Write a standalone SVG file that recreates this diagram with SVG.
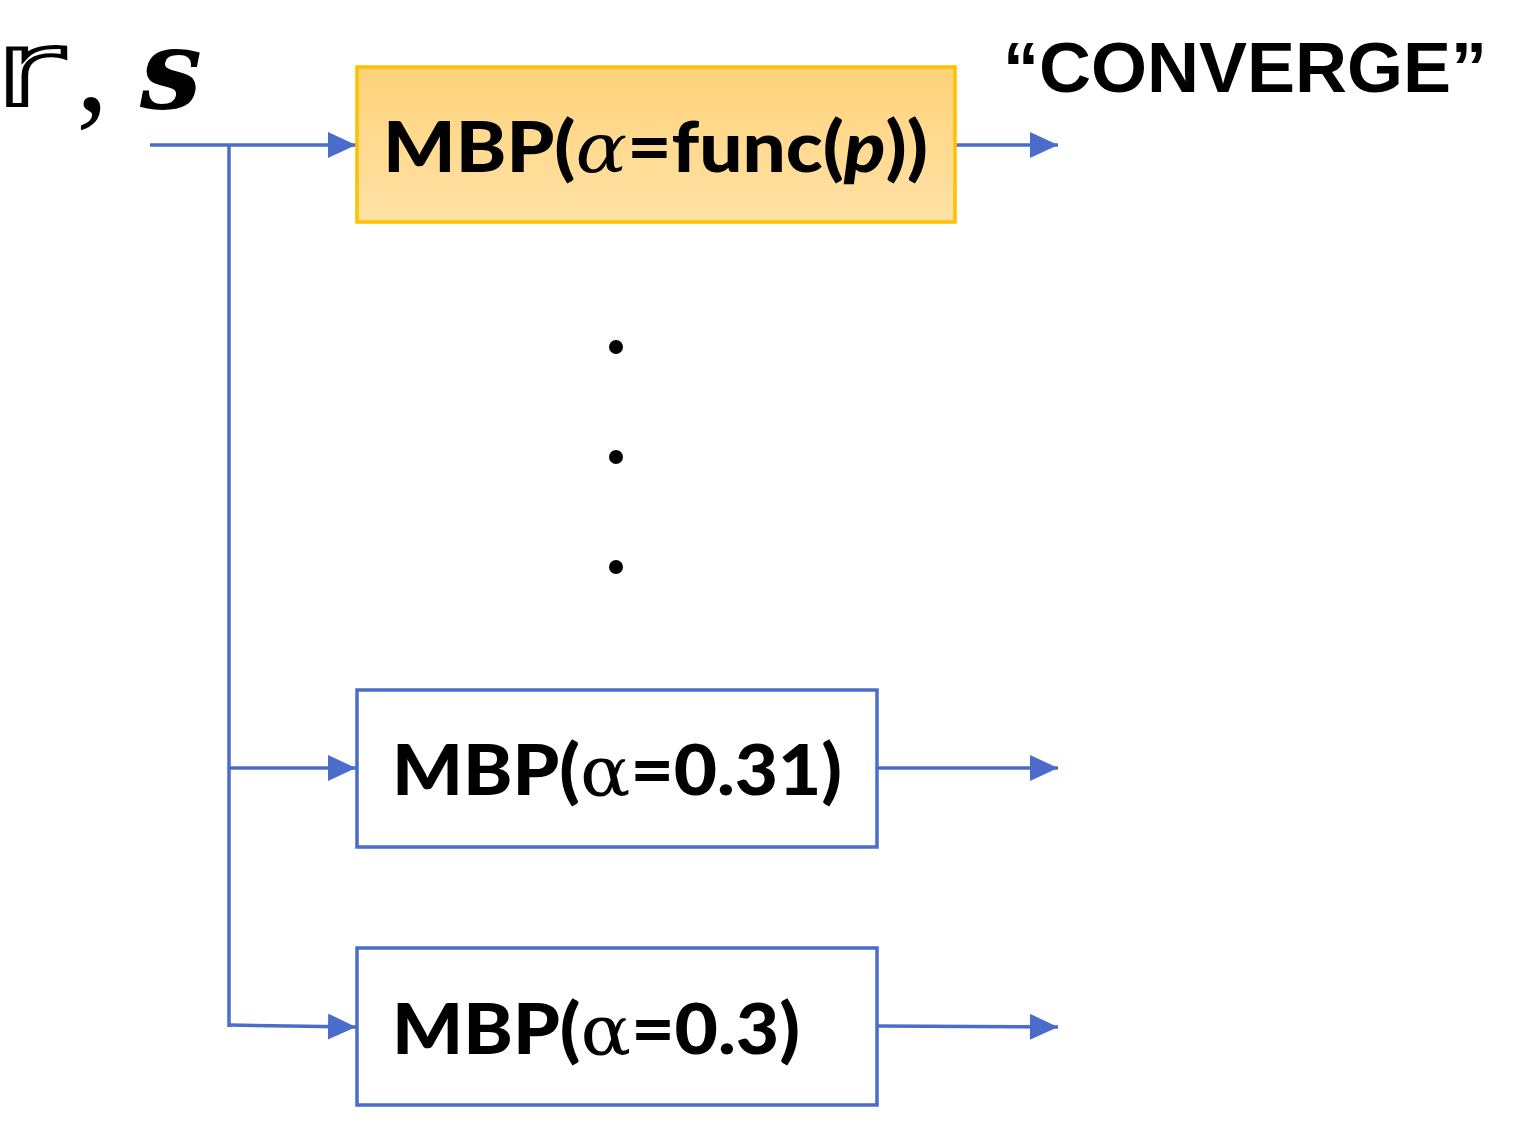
<svg xmlns="http://www.w3.org/2000/svg" width="1537" height="1127" viewBox="0 0 1537 1127">
<defs>
<linearGradient id="og" x1="0" y1="0" x2="0" y2="1"><stop offset="0" stop-color="#FFD27A"/><stop offset="1" stop-color="#FFE2A6"/></linearGradient>
<marker id="a" viewBox="0 0 28 26" refX="28" refY="13" markerWidth="28" markerHeight="26" markerUnits="userSpaceOnUse" orient="auto"><path d="M0,0 L28,13 L0,26 Z" fill="#4A6CCB"/></marker>
</defs>
<style>
.ln{stroke:#4A6CCB;stroke-width:3.5;fill:none}
.bx{fill:#fff;stroke:#4A6CCB;stroke-width:3.5}
.t{font-family:Lato,"Open Sans","Noto Sans",sans-serif;font-weight:900;fill:#000;font-size:70px}
.g{font-family:"DejaVu Serif","Liberation Serif",serif;font-weight:normal}
</style>
<rect width="1537" height="1127" fill="#fff"/>
<g id="input">
<text x="-6" y="105" font-family="DejaVu Sans,sans-serif" font-size="104" fill="#fff" stroke="#000" stroke-width="4" textLength="70" lengthAdjust="spacingAndGlyphs">r</text>
<text x="76" y="110" font-family="Liberation Serif,serif" font-size="130" fill="#000">,</text>
<text x="140" y="108" font-family="DejaVu Serif,serif" font-size="110" font-weight="bold" font-style="italic" fill="#000" textLength="62" lengthAdjust="spacingAndGlyphs">s</text>
</g>
<g id="connectors">
<path class="ln" d="M150,145 H356" marker-end="url(#a)"/>
<path class="ln" d="M229,145 V1027"/>
<path class="ln" d="M229,768 H356" marker-end="url(#a)"/>
<path class="ln" d="M229,1025 L356,1027" marker-end="url(#a)"/>
<path class="ln" d="M956,145 H1058" marker-end="url(#a)"/>
<path class="ln" d="M878,768 H1058" marker-end="url(#a)"/>
<path class="ln" d="M878,1026 L1058,1027" marker-end="url(#a)"/>
</g>
<g id="node-func">
<rect x="357" y="67" width="598" height="155" fill="url(#og)" stroke="#FFC000" stroke-width="3.5"/>
<text class="t" x="383" y="172" textLength="545" lengthAdjust="spacingAndGlyphs">MBP(<tspan class="g" font-style="italic">α</tspan>=func(<tspan font-style="italic">p</tspan>))</text>
</g>
<g id="dots" fill="#000">
<circle cx="616" cy="347" r="7"/>
<circle cx="616" cy="457" r="7"/>
<circle cx="616" cy="567" r="7"/>
</g>
<g id="node-031">
<rect class="bx" x="357" y="690" width="520" height="157"/>
<text class="t" x="392" y="795" textLength="450" lengthAdjust="spacingAndGlyphs">MBP(<tspan class="g">α</tspan>=0.31)</text>
</g>
<g id="node-03">
<rect class="bx" x="357" y="948" width="520" height="157"/>
<text class="t" x="392" y="1054" textLength="408" lengthAdjust="spacingAndGlyphs">MBP(<tspan class="g">α</tspan>=0.3)</text>
</g>
<g id="label-converge">
<text x="1003" y="92" font-family="Liberation Sans,Arial,sans-serif" font-weight="bold" font-size="70" textLength="484" lengthAdjust="spacingAndGlyphs">“CONVERGE”</text>
</g>
</svg>
